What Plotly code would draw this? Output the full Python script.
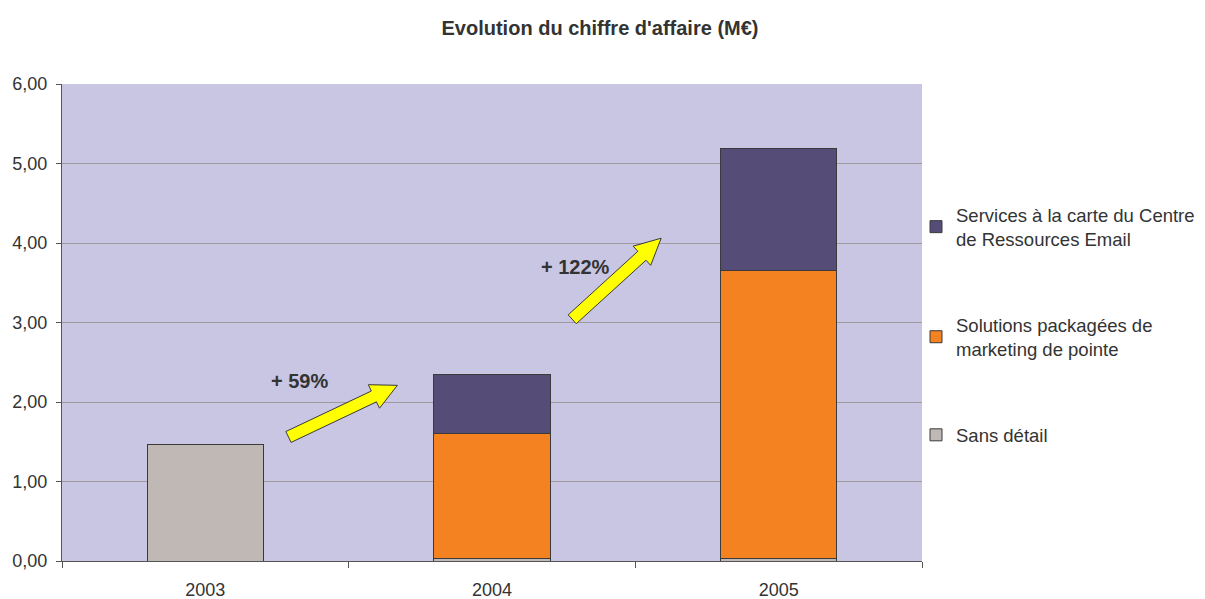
import math
import plotly.graph_objects as go

# ─── Data ─────────────────────────────────────────────────────────────────────

years = ["2003", "2004", "2005"]
sans_detail = [1.46, 0.03, 0.03]
solutions = [0, 1.57, 3.62]
services = [0, 0.74, 1.54]

series_names = [
    "Sans détail",
    "Solutions packagées de<br>marketing de pointe",
    "Services à la carte du Centre<br>de Ressources Email",
]
series_colors = ["#C0B8B4", "#F58220", "#554C78"]

growth_labels = ["+ 59%", "+ 122%"]
# arrows: (x0, y0, x1, y1) in category index / value units
growth_arrows = [(0.29, 1.56, 0.67, 2.21), (1.28, 3.04, 1.59, 4.06)]
growth_label_pos = [(0.33, 2.26), (1.29, 3.70)]

# ─── Layout geometry ──────────────────────────────────────────────────────────

W, H = 1205, 599
ML, MR, MT, MB = 62, 5, 84, 38
PLOT_W = 860                      # width of the bar area in px
PAPER_W = W - ML - MR
PH = H - MT - MB
YMAX = 6


def to_px(x, y):
    px = ML + (x + 0.5) / 3 * PLOT_W
    py = MT + (1 - y / YMAX) * PH
    return px, py


def to_paper(px, py):
    return (px - ML) / PAPER_W, 1 - (py - MT) / PH


def arrow_path(x0, y0, x1, y1, shaft=6, head_w=13, head_l=26):
    ax, ay = to_px(x0, y0)
    bx, by = to_px(x1, y1)
    dx, dy = bx - ax, by - ay
    L = math.hypot(dx, dy)
    ux, uy = dx / L, dy / L
    nx, ny = -uy, ux
    hx, hy = bx - ux * head_l, by - uy * head_l
    pts = [
        (ax + nx * shaft, ay + ny * shaft),
        (hx + nx * shaft, hy + ny * shaft),
        (hx + nx * head_w, hy + ny * head_w),
        (bx, by),
        (hx - nx * head_w, hy - ny * head_w),
        (hx - nx * shaft, hy - ny * shaft),
        (ax - nx * shaft, ay - ny * shaft),
    ]
    pp = [to_paper(*p) for p in pts]
    return "M " + " L ".join(f"{a:.4f},{b:.4f}" for a, b in pp) + " Z"


# ─── Figure ───────────────────────────────────────────────────────────────────

fig = go.Figure()
stack = [sans_detail, solutions, services]
for i, (vals, name, color) in enumerate(zip(stack, series_names, series_colors)):
    fig.add_trace(go.Bar(
        x=years, y=vals, name=name, legendgroup=f"g{i}", legendrank=10 - i,
        marker=dict(color=color, line=dict(color="#3A3A3A", width=1)),
    ))

for (x0, y0, x1, y1) in growth_arrows:
    fig.add_shape(
        type="path", xref="paper", yref="paper", path=arrow_path(x0, y0, x1, y1),
        fillcolor="#FFFF00", line=dict(color="#3A3A3A", width=1),
    )

for text, (x, y) in zip(growth_labels, growth_label_pos):
    fig.add_annotation(
        x=x, y=y, xref="x", yref="y", text=f"<b>{text}</b>", showarrow=False,
        font=dict(size=20, color="#333333"),
    )

fig.update_layout(
    width=W, height=H,
    margin=dict(l=ML, r=MR, t=MT, b=MB),
    barmode="stack", bargap=0.595,
    plot_bgcolor="#C8C6E2", paper_bgcolor="white",
    font=dict(family="Liberation Sans, Arial, sans-serif", color="#333333"),
    separators=",.",
    title=dict(text="<b>Evolution du chiffre d'affaire (M€)</b>", x=600 / W, xref="container",
               xanchor="center", y=0.953, yanchor="middle",
               font=dict(size=20, color="#333333")),
    legend=dict(x=(916 - ML) / PAPER_W, y=0.765, xanchor="left", yanchor="top",
                traceorder="grouped", tracegroupgap=59, bgcolor="rgba(0,0,0,0)",
                font=dict(size=18.5, color="#333333")),
    showlegend=True,
)
fig.update_xaxes(
    domain=[0, PLOT_W / PAPER_W], automargin=False,
    showline=True, linecolor="#555555", linewidth=1,
    ticks="outside", tickson="boundaries", ticklen=6, tickcolor="#555555",
    ticklabelstandoff=12, tickfont=dict(size=18), showgrid=False,
)
fig.update_yaxes(
    range=[0, YMAX], dtick=1, tickformat=".2f", automargin=False,
    showline=True, linecolor="#555555", linewidth=1,
    ticks="outside", ticklen=5, tickcolor="#555555", ticklabelstandoff=5,
    gridcolor="#A09A9E", gridwidth=1, zeroline=False,
    tickfont=dict(size=18),
)

fig.write_html("out.html", config={"displayModeBar": False},
               post_script="document.body.style.margin='0px';")
